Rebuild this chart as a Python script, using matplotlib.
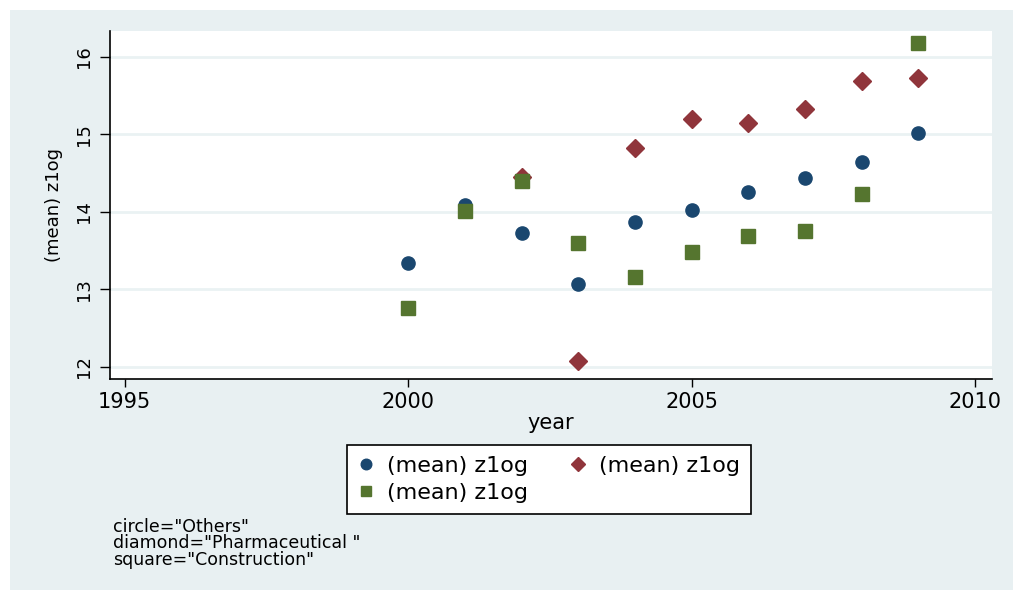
import numpy as np
import matplotlib
matplotlib.use("Agg")
import matplotlib.pyplot as plt
from matplotlib.patches import Rectangle

plt.rcParams["font.family"] = ["DejaVu Sans"]

# mean z1og by year, one series per industry group
years = [2000, 2001, 2002, 2003, 2004, 2005, 2006, 2007, 2008, 2009]
others = [13.34, 14.09, 13.72, 13.07, 13.87, 14.02, 14.25, 14.43, 14.64, 15.02]
pharma_years = [2002, 2003, 2004, 2005, 2006, 2007, 2008, 2009]
pharma = [14.44, 12.07, 14.82, 15.20, 15.14, 15.32, 15.69, 15.72]
construction = [12.75, 14.01, 14.39, 13.59, 13.16, 13.48, 13.68, 13.75, 14.23, 16.18]

xticks = [1995, 2000, 2005, 2010]
yticks = [12, 13, 14, 15, 16]
legend_labels = ["(mean) z1og", "(mean) z1og", "(mean) z1og"]
note_lines = ['circle="Others"', 'diamond="Pharmaceutical "', 'square="Construction"']

NAVY = "#1a476f"
MAROON = "#90353b"
GREEN = "#55752f"
BG = "#e8f0f2"
GRID = "#eaf2f3"

W, H = 1013, 590
fig = plt.figure(figsize=(W / 100, H / 100), dpi=100, facecolor="white")
fig.patches.append(Rectangle((10 / W, 0), 1 - 10 / W, 1 - 10 / H,
                             transform=fig.transFigure, facecolor=BG,
                             edgecolor="none", zorder=-10))

ax = fig.add_axes([110 / W, 1 - 379 / H, (992 - 110) / W, (379 - 31) / H])
ax.set_facecolor("white")

h_c, = ax.plot(years, others, ls="none", marker="o", ms=9.5, color=NAVY,
               mec=NAVY, zorder=3)
h_d, = ax.plot(pharma_years, pharma, ls="none", marker="D", ms=9.5,
               color=MAROON, mec=MAROON, zorder=3)
h_s, = ax.plot(years, construction, ls="none", marker="s", ms=9.5,
               color=GREEN, mec=GREEN, zorder=4)

ax.set_xlim(1994.74, 2010.3)
ax.set_ylim(11.84, 16.33)
ax.set_xticks(xticks)
ax.set_yticks(yticks)
ax.yaxis.grid(True, color=GRID, lw=2)
ax.set_axisbelow(True)
for s in ("top", "right"):
    ax.spines[s].set_visible(False)
for s in ("left", "bottom"):
    ax.spines[s].set_color("black")
    ax.spines[s].set_linewidth(1.2)
ax.tick_params(axis="x", length=6, width=1, color="black",
               labelsize=15, pad=3)
ax.tick_params(axis="y", length=7, width=1, color="black",
               labelsize=13, pad=5)
for lab in ax.get_yticklabels():
    lab.set_rotation(90)
    lab.set_va("center")
ax.set_xlabel("year", fontsize=15, labelpad=1)
ax.set_ylabel("(mean) z1og", fontsize=13, labelpad=9)

leg = fig.legend([h_c, h_s, h_d], legend_labels, ncol=2,
                 loc="upper left", bbox_to_anchor=(347 / W, 1 - 445 / H),
                 frameon=True, fancybox=False, fontsize=16, markerscale=0.8,
                 handlelength=0.7, handletextpad=0.6, columnspacing=1.9,
                 borderpad=0.5, labelspacing=0.32, borderaxespad=0,
                 framealpha=1, facecolor="white")
leg.get_frame().set_edgecolor("black")
leg.get_frame().set_linewidth(1.2)

fig.text(113 / W, 1 - 518 / H, "\n".join(note_lines), fontsize=12.5,
         va="top", ha="left", linespacing=0.88)

fig.savefig("out.png", dpi=100, facecolor="white")
